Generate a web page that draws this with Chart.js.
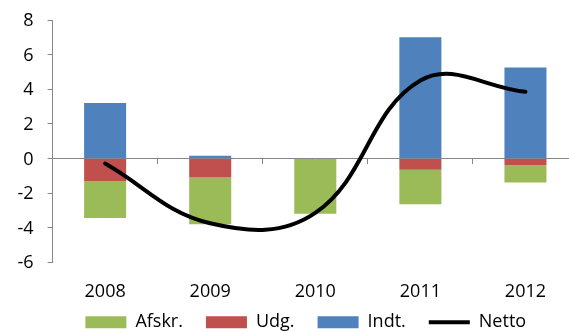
<!DOCTYPE html>
<html>
<head>
<meta charset="utf-8">
<script src="https://cdn.jsdelivr.net/npm/chart.js@4/dist/chart.umd.min.js"></script>
<style>
  html, body { margin: 0; padding: 0; background: #fff; overflow: hidden; }
  #wrap { width: 569px; height: 332px; overflow: hidden; }
</style>
</head>
<body>
<div id="wrap"><canvas id="chart" width="580" height="364"></canvas></div>
<script>
// Years along the x axis
const years = ['2008', '2009', '2010', '2011', '2012'];

// Components of the yearly change
const afskr = [-2.15, -2.7, -3.2, -2.0, -1.0];
const udg = [-1.3, -1.1, 0, -0.65, -0.4];
const indt = [3.2, 0.15, 0, 7.0, 5.25];

// Net result
const netto = [-0.3, -3.75, -3.15, 4.5, 3.85];

// Value axis ticks
const yMin = -6;
const yMax = 8;
const yStep = 2;

const axisGrey = '#868686';
const font = { family: "'Open Sans', sans-serif", size: 18 };

// Moves the bottom legend right and up from its default spot
const legendShift = {
    id: 'legendShift',
    afterLayout(chart) {
        const legend = chart.legend;
        const dy = legend.top - (chart.chartArea.bottom + 28);
        legend.left += 15;
        legend.right += 15;
        legend.top -= dy;
        legend.bottom -= dy;
    }
};

const config = {
    data: {
        labels: years,
        datasets: [
            {
                type: 'line',
                label: 'Netto',
                data: netto,
                borderColor: '#000',
                backgroundColor: '#000',
                borderWidth: 4,
                borderCapStyle: 'round',
                tension: 0.4,
                pointRadius: 0,
                order: 0
            },
            {
                type: 'bar',
                label: 'Afskr.',
                data: afskr,
                backgroundColor: '#9BBB59',
                order: 2
            },
            {
                type: 'bar',
                label: 'Udg.',
                data: udg,
                backgroundColor: '#C0504D',
                order: 1
            },
            {
                type: 'bar',
                label: 'Indt.',
                data: indt,
                backgroundColor: '#4F81BD',
                order: 3
            }
        ]
    },
    options: {
        responsive: false,
        animation: false,
        devicePixelRatio: 1,
        layout: { padding: { left: 3.5, top: 20, right: 2, bottom: 0 } },
        datasets: {
            bar: { barPercentage: 0.4, categoryPercentage: 1 }
        },
        scales: {
            // category axis drawn along the zero line, only tick marks
            x: {
                stacked: true,
                position: { y: 0 },
                offset: true,
                grid: {
                    offset: true,
                    drawOnChartArea: false,
                    tickLength: 5,
                    color: axisGrey
                },
                border: { color: axisGrey, width: 1 },
                ticks: { display: false }
            },
            // year labels at the bottom of the plot
            x2: {
                type: 'category',
                labels: years,
                min: years[0],
                max: years[years.length - 1],
                display: true,
                position: 'bottom',
                offset: true,
                grid: { display: false },
                border: { display: false },
                ticks: { color: '#000', font: font, padding: 10.6 }
            },
            y: {
                stacked: true,
                min: yMin,
                max: yMax,
                grid: {
                    drawOnChartArea: false,
                    tickLength: 5,
                    color: axisGrey
                },
                border: { color: axisGrey, width: 1 },
                ticks: {
                    stepSize: yStep,
                    color: '#000',
                    font: { ...font, lineHeight: 0.6 },
                    padding: 14,
                    labelOffset: 1
                }
            }
        },
        plugins: {
            tooltip: { enabled: false },
            legend: {
                position: 'bottom',
                labels: {
                    color: '#000',
                    font: font,
                    usePointStyle: true,
                    pointStyleWidth: 41,
                    boxHeight: 12,
                    padding: 23,
                    sort: (a, b) => {
                        const rank = [3, 0, 1, 2];
                        return rank[a.datasetIndex] - rank[b.datasetIndex];
                    },
                    generateLabels(chart) {
                        const items = Chart.defaults.plugins.legend.labels.generateLabels(chart);
                        items.forEach(item => {
                            item.pointStyle = item.datasetIndex === 0 ? 'line' : 'rect';
                        });
                        return items;
                    }
                }
            }
        }
    },
    plugins: [legendShift]
};

new Chart(document.getElementById('chart'), config);
</script>
</body>
</html>
